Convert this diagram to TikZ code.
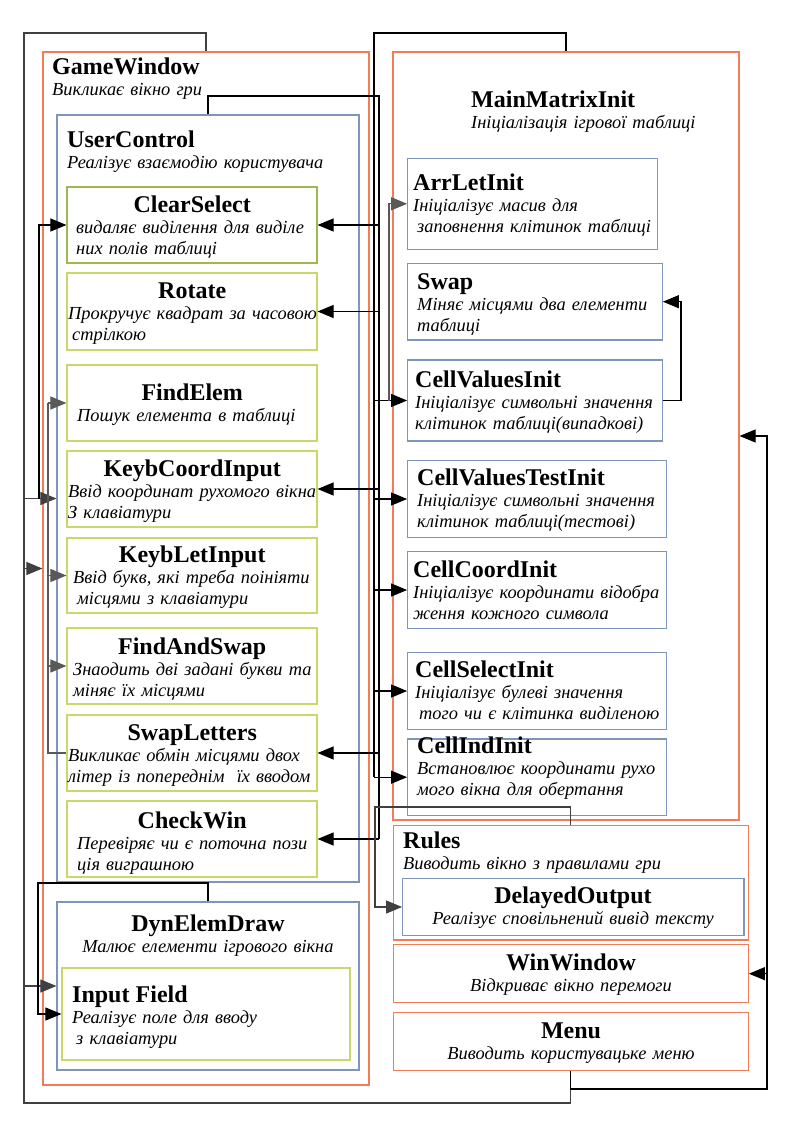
\documentclass[tikz,border=0pt]{standalone}
\usepackage{fontspec}
\setmainfont{Liberation Serif}
\usetikzlibrary{arrows.meta,positioning}
\definecolor{boxorange}{RGB}{240,124,88}
\definecolor{boxblue}{RGB}{126,150,188}
\definecolor{boxgreen}{RGB}{200,216,106}
\definecolor{boxgreendk}{RGB}{160,184,82}
\setlength{\parindent}{0pt}
\newcommand{\dsc}{\itshape\fontsize{18.4}{21}\selectfont}
\newcommand{\hd}[1]{{\normalfont\bfseries\fontsize{24}{21}\selectfont\rule{0pt}{17pt}#1\par}}
\newcommand{\hdc}[2][0pt]{{\centering\normalfont\bfseries\fontsize{24}{21}\selectfont\rule{0pt}{17pt}\hspace*{#1}#2\par}}

\begin{document}
\begin{tikzpicture}[x=1pt,y=-1pt,
  obox/.style={draw=boxorange,line width=1.15pt,inner sep=0pt},
  bbox/.style={draw=boxblue,line width=1.15pt,inner sep=0pt},
  gbox/.style={draw=boxgreen,line width=1.15pt,inner sep=0pt},
  txt/.style={anchor=north west,inner sep=0pt,align=left,font=\dsc},
  txtc/.style={anchor=north,inner sep=0pt,align=center,font=\dsc},
  con/.style={line width=1.1pt},
  arr/.style={con,-{Triangle[length=16pt,width=13pt]}}]
\fill[white] (0,0) rectangle (794,1123);
\useasboundingbox (0,0) rectangle (794,1123);

% left column
\node[obox,minimum width=326,minimum height=1033] (gw) at (206,568.5) {};
\node[bbox,minimum width=302,minimum height=767] (uc) at (208,498.5) {};
\node[gbox,draw=boxgreendk,minimum width=250,minimum height=76] (cs) at (192,225) {};
\node[gbox,minimum width=250,minimum height=77] (rt) at (192,311.5) {};
\node[gbox,minimum width=250,minimum height=76] (fe) at (192,403) {};
\node[gbox,minimum width=250,minimum height=76] (kc) at (192,489) {};
\node[gbox,minimum width=250,minimum height=75] (kl) at (192,575.5) {};
\node[gbox,minimum width=250,minimum height=76] (fs) at (192,666) {};
\node[gbox,minimum width=250,minimum height=76] (sl) at (192,753) {};
\node[gbox,minimum width=250,minimum height=76] (cw) at (192,839) {};
\node[bbox,minimum width=302,minimum height=168] (de) at (208,986) {};
\node[gbox,minimum width=288,minimum height=92] (inf) at (206,1014) {};

% right column
\node[obox,minimum width=346,minimum height=768] (mm) at (566,436) {};
\node[bbox,minimum width=249.6,minimum height=91] (al) at (532.5,203.8) {};
\node[bbox,minimum width=254.6,minimum height=76.7] (sw) at (535,301.7) {};
\node[bbox,minimum width=254.6,minimum height=81] (cv) at (535,400.5) {};
\node[bbox,minimum width=259,minimum height=76.6] (ct) at (537.2,499) {};
\node[bbox,minimum width=259,minimum height=76.6] (cc) at (537.2,590) {};
\node[bbox,minimum width=259,minimum height=76.6] (csi) at (537.2,691) {};
\node[bbox,minimum width=259,minimum height=76.3] (cii) at (537.2,777.2) {};
\node[obox,minimum width=355,minimum height=114.3] (rl) at (570.8,882.8) {};
\node[bbox,minimum width=341.3,minimum height=57.4] (dout) at (573.3,907) {};
\node[obox,minimum width=355,minimum height=58] (ww) at (570.8,973.7) {};
\node[obox,minimum width=355,minimum height=58] (mn) at (570.8,1041.7) {};

% texts
\node[txt,text width=300] (gw-t) at (52,57) {\hd{GameWindow}Викликає вікно гри};
\node[txt,text width=285] (uc-t) at (67,130) {\hd{UserControl}Реалізує взаємодію користувача};
\node[txt,text width=240] (cs-t) at (76,195) {\hdc[-8pt]{ClearSelect}видаляє виділення для виділе\\них полів таблиці};
\node[txt,text width=258] (rt-t) at (68,281) {\hdc[-10pt]{Rotate}Прокручує квадрат за часовою\\\hspace*{4pt}стрілкою};
\node[txt,text width=230] (fe-t) at (77,383) {\hdc{FindElem}Пошук елемента в таблиці};
\node[txt,text width=258] (kc-t) at (68,459) {\hdc[-10pt]{KeybCoordInput}Ввід координат рухомого вікна\\З клавіатури};
\node[txt,text width=248] (kl-t) at (72,545) {\hdc[-8pt]{KeybLetInput}\hspace*{1pt}Ввід букв, які треба поініяти\\\hspace*{5pt}місцями з клавіатури};
\node[txt,text width=248] (fs-t) at (73,637) {\hdc[-10pt]{FindAndSwap}Знаодить дві задані букви та\\міняє їх місцями};
\node[txt,text width=256] (sl-t) at (68,723) {\hdc[-8pt]{SwapLetters}Викликає обмін місцями двох\\літер із попереднім\ \ їх вводом};
\node[txt,text width=240] (cw-t) at (77,811) {\hdc[-10pt]{CheckWin}Перевіряє чи є поточна пози\\ція виграшною};
\node[txtc,text width=290] (de-t) at (208,914) {\hdc{DynElemDraw}Малює елементи ігрового вікна};
\node[txt,text width=270] (inf-t) at (72,985) {\hd{Input Field}Реалізує поле для вводу\\\hspace*{4pt}з клавіатури};

\node[txt,text width=270] (mm-t) at (471,90) {\hd{MainMatrixInit}Ініціалізація ігрової таблиці};
\node[txt,text width=260] (al-t) at (413,173) {\hd{ArrLetInit}Ініціалізує масив для\\\hspace*{4pt}заповнення клітинок таблиці};
\node[txt,text width=260] (sw-t) at (417,272) {\hd{Swap}Міняє місцями два елементи\\таблиці};
\node[txt,text width=260] (cv-t) at (415,370) {\hd{CellValuesInit}Ініціалізує символьні значення\\клітинок таблиці(випадкові)};
\node[txt,text width=260] (ct-t) at (417,468) {\hd{CellValuesTestInit}Ініціалізує символьні значення\\клітинок таблиці(тестові)};
\node[txt,text width=262] (cc-t) at (413,560) {\hd{CellCoordInit}Ініціалізує координати відобра\\ження кожного символа};
\node[txt,text width=260] (csi-t) at (415,660) {\hd{CellSelectInit}Ініціалізує булеві значення\\\hspace*{4pt}того чи є клітинка виділеною};
\node[txt,text width=260] (cii-t) at (417,736) {\hd{CellIndInit}Встановлює координати рухо\\мого вікна для обертання};
\node[txt,text width=340] (rl-t) at (403,831) {\hd{Rules}Виводить вікно з правилами гри};
\node[txtc,text width=336] (dout-t) at (573,886) {\hdc{DelayedOutput}Реалізує сповільнений вивід тексту};
\node[txtc,text width=340] (ww-t) at (571,953) {\hdc{WinWindow}Відкриває вікно перемоги};
\node[txtc,text width=340] (mn-t) at (571,1021) {\hdc{Menu}Виводить користувацьке меню};

% connectors
\coordinate (lb) at (24,1103);
\coordinate (lt) at (24,33);
\coordinate (csb) at (39,0);
\draw[con,black!75] (mn.south) |- (lb) -- (lt) -| (gw.north);
\foreach \n in {gw,uc,de} \draw[arr,black!75] (\n.west -| lb) -- (\n.west);
\draw[arr] (uc.west -| csb) |- (cs.west);

\coordinate (ucb) at (379,96);
\draw[con] (uc.north) |- (ucb) -- (ucb |- cw.east);
\foreach \n in {cs,rt,kc,sl,cw} \draw[arr] (\n.east -| ucb) -- (\n.east);

\coordinate (slb) at (48,403);
\draw[con,black!65] (sl.west) -| (slb);
\foreach \n in {fe,kl,fs} \draw[arr,black!65] (\n.west -| slb) -- (\n.west);

\coordinate (deb) at (38,883);
\draw[arr] (de.north) |- (deb) |- (inf.west);

\coordinate (mmb) at (374,33);
\draw[con] (mm.north) |- (mmb) -- (mmb |- cii.west);
\foreach \n in {cv,ct,cc,csi,cii} \draw[arr] (\n.west -| mmb) -- (\n.west);
\coordinate (alb) at (389,0);
\draw[arr,black!65] (cv.west -| alb) |- (al.west);

\coordinate (swb) at (681,0);
\draw[arr] (cv.east) -| (swb |- sw.east) -- (sw.east);

\coordinate (rlb) at (375,807);
\draw[arr,black!75] (rl.north) |- (rlb) |- (dout.west);

\coordinate (mnb) at (767,1089);
\draw[arr] (mn.south) |- (mnb) |- (mm.east);
\draw[arr] (ww.east -| mnb) -- (ww.east);
\end{tikzpicture}
\end{document}
